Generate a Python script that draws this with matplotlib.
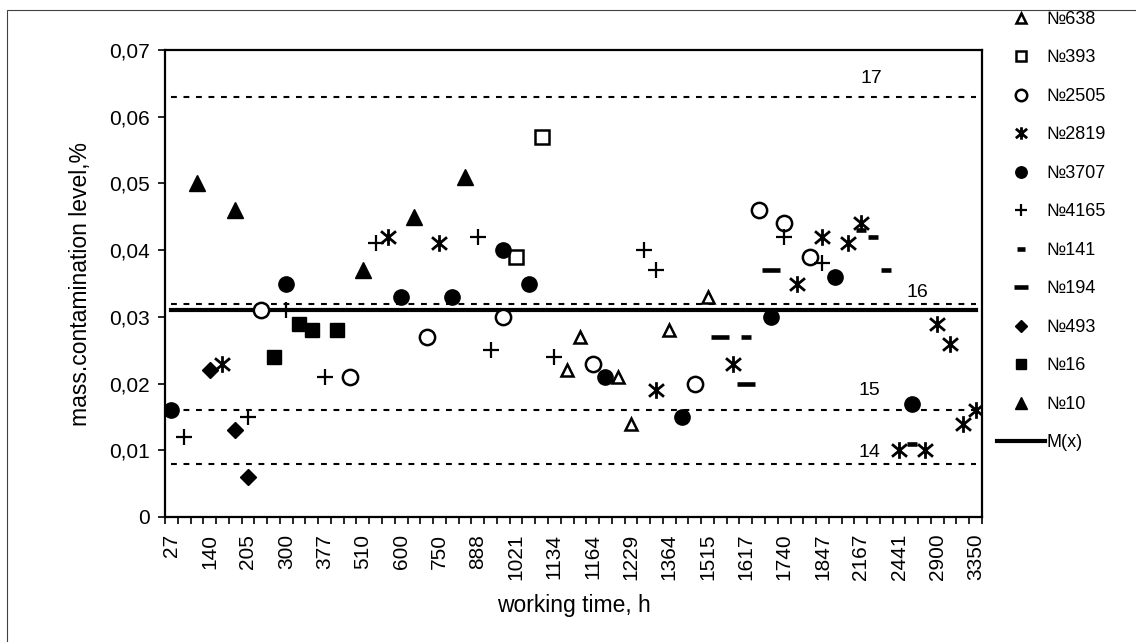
import matplotlib
matplotlib.use('Agg')
import matplotlib.pyplot as plt
from matplotlib.path import Path
from matplotlib.lines import Line2D
from matplotlib.patches import Rectangle
from matplotlib.legend_handler import HandlerLine2D

plt.rcParams['font.family'] = ['Liberation Sans', 'DejaVu Sans']

# category axis: 64 working-time points, label on every 3rd one
n_cat = 64
label_every = 3
tick_labels = ['27', '140', '205', '300', '377', '510', '600', '750', '888', '1021', '1134',
               '1164', '1229', '1364', '1515', '1617', '1740', '1847', '2167', '2441', '2900', '3350']

# series: category index + value
s638_x = [31, 32, 35, 36, 39, 42]
s638_y = [0.022, 0.027, 0.021, 0.014, 0.028, 0.033]
s393_x = [27, 29]
s393_y = [0.039, 0.057]
s2505_x = [7, 14, 20, 26, 33, 41, 46, 48, 50]
s2505_y = [0.031, 0.021, 0.027, 0.030, 0.023, 0.020, 0.046, 0.044, 0.039]
s2819_x = [4, 17, 21, 38, 44, 49, 51, 53, 54, 57, 59, 60, 61, 62, 63]
s2819_y = [0.023, 0.042, 0.041, 0.019, 0.023, 0.035, 0.042, 0.041, 0.044, 0.010, 0.010,
           0.029, 0.026, 0.014, 0.016]
s3707_x = [0, 9, 18, 22, 26, 28, 34, 40, 47, 52, 58]
s3707_y = [0.016, 0.035, 0.033, 0.033, 0.040, 0.035, 0.021, 0.015, 0.030, 0.036, 0.017]
s4165_x = [1, 6, 9, 12, 16, 24, 25, 30, 37, 38, 48, 51]
s4165_y = [0.012, 0.015, 0.031, 0.021, 0.041, 0.042, 0.025, 0.024, 0.040, 0.037, 0.042, 0.038]
s141_x = [45, 54, 55, 56, 58]
s141_y = [0.027, 0.043, 0.042, 0.037, 0.011]
s194_x = [43, 45, 47]
s194_y = [0.027, 0.020, 0.037]
s493_x = [3, 5, 6]
s493_y = [0.022, 0.013, 0.006]
s16_x = [8, 10, 11, 13]
s16_y = [0.024, 0.029, 0.028, 0.028]
s10_x = [2, 5, 15, 19, 23]
s10_y = [0.050, 0.046, 0.037, 0.045, 0.051]

mean_value = 0.031
level_values = [0.008, 0.016, 0.032, 0.063]
level_names = ['14', '15', '16', '17']
level_text_x = [54.7, 54.7, 58.4, 54.8]
level_text_y = [0.0097, 0.0190, 0.0337, 0.0658]

# asterisk marker (X with vertical bar)
ast = Path([(0, -1), (0, 1), (-0.9, -0.75), (0.9, 0.75), (-0.9, 0.75), (0.9, -0.75)],
           [Path.MOVETO, Path.LINETO, Path.MOVETO, Path.LINETO, Path.MOVETO, Path.LINETO])

series = [
    ('№638', s638_x, s638_y, dict(marker='^', ms=9, mfc='white', mec='k', mew=1.8)),
    ('№393', s393_x, s393_y, dict(marker='s', ms=10, mfc='white', mec='k', mew=1.8)),
    ('№2505', s2505_x, s2505_y, dict(marker='o', ms=11, mfc='white', mec='k', mew=1.8)),
    ('№2819', s2819_x, s2819_y, dict(marker=ast, ms=12, mfc='none', mec='k', mew=2.0)),
    ('№3707', s3707_x, s3707_y, dict(marker='o', ms=11, mfc='k', mec='k', mew=1)),
    ('№4165', s4165_x, s4165_y, dict(marker='+', ms=12, mfc='k', mec='k', mew=1.6)),
    ('№141', s141_x, s141_y, dict(marker='_', ms=7, mfc='k', mec='k', mew=3.3)),
    ('№194', s194_x, s194_y, dict(marker='_', ms=13, mfc='k', mec='k', mew=3.3)),
    ('№493', s493_x, s493_y, dict(marker='D', ms=8, mfc='k', mec='k', mew=1)),
    ('№16', s16_x, s16_y, dict(marker='s', ms=10.5, mfc='k', mec='k', mew=1)),
    ('№10', s10_x, s10_y, dict(marker='^', ms=11, mfc='k', mec='k', mew=1)),
]


class RightMarker(HandlerLine2D):
    # legend marker sits right of the handle centre, like in the excel legend
    def get_xdata(self, legend, xdescent, ydescent, width, height, fontsize):
        xdata, _ = super().get_xdata(legend, xdescent, ydescent, width, height, fontsize)
        return xdata, [-xdescent + 0.72 * width]


W, H = 1136, 642
fig = plt.figure(figsize=(W / 100, H / 100), dpi=100)
ax = fig.add_axes([165 / W, (H - 517) / H, 817 / W, 467 / H])

# outer chart border
fig.patches.append(Rectangle((7 / W, -0.1), 1.2, (H - 10) / H + 0.1, transform=fig.transFigure,
                             fill=False, edgecolor='#404040', lw=0.8, clip_on=False))

x_ends = [0, n_cat - 1]
for v in level_values:
    ax.plot(x_ends, [v, v], color='k', lw=1.5, dashes=(2.8, 3.2), zorder=1)
mean_line, = ax.plot(x_ends, [mean_value, mean_value], color='k', lw=3, zorder=1)
for t, tx, ty in zip(level_names, level_text_x, level_text_y):
    ax.text(tx, ty, t, ha='center', va='center', fontsize=14)

handles = []
labels = []
hmap = {}
for name, xs, ys, st in series:
    ax.plot(xs, ys, ls='none', zorder=3, **st)
    h = Line2D([], [], ls='none', **st)
    handles.append(h)
    hmap[h] = RightMarker()
    labels.append(name)
handles.append(mean_line)
labels.append('M(x)')

ax.set_xlim(-0.5, n_cat - 0.5)
ax.set_ylim(0, 0.07)
ax.set_yticks([i / 100 for i in range(8)])
ax.set_yticklabels(['0'] + ['0,0%d' % i for i in range(1, 8)])
ax.set_xticks(list(range(0, n_cat, label_every)))
ax.set_xticklabels(tick_labels, rotation=90)
ax.set_xticks([i - 0.5 for i in range(n_cat + 1)], minor=True)
ax.tick_params(axis='x', which='major', length=0, pad=12, labelsize=15)
ax.tick_params(axis='x', which='minor', length=5, width=1.2, direction='out')
ax.tick_params(axis='y', length=5, width=1.2, pad=6, labelsize=15)
for sp in ax.spines.values():
    sp.set_linewidth(1.6)

ax.set_xlabel('working time, h', fontsize=16.5, labelpad=10)
ax.set_ylabel('mass.contamination level,%', fontsize=16.5, labelpad=12)

ax.legend(handles, labels, loc='upper left', bbox_to_anchor=(997 / W, 1 - 11 / H),
          bbox_transform=fig.transFigure, frameon=False, fontsize=13, markerscale=0.75,
          handlelength=2.65, handletextpad=0.1, labelspacing=1.19, borderpad=0,
          borderaxespad=0, handler_map=hmap)

fig.savefig('out.png', dpi=100)
